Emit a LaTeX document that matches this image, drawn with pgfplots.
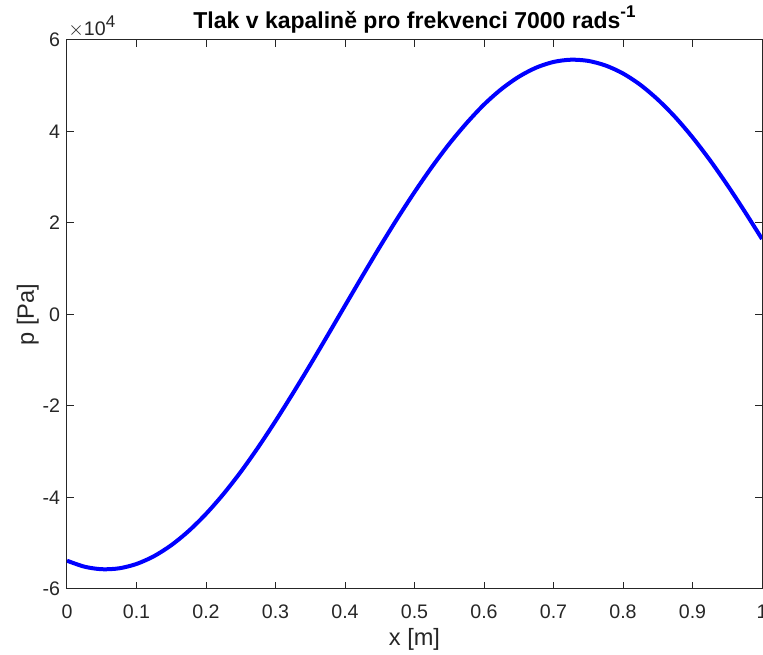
\documentclass[border=0pt]{standalone}
\usepackage{pgfplots}
\pgfplotsset{compat=1.18}
\usepackage{fontspec}
\setmainfont{Liberation Sans}
\definecolor{axgray}{RGB}{38,38,38}
\begin{document}
\begin{tikzpicture}
\begin{axis}[
  width=347.5pt, height=274.5pt, scale only axis,
  xmin=0, xmax=1, ymin=-6, ymax=6,
  xtick={0,0.1,...,1},
  xticklabels={0,0.1,0.2,0.3,0.4,0.5,0.6,0.7,0.8,0.9,1},
  ytick={-6,-4,-2,0,2,4,6},
  yticklabels={-6,-4,-2,0,2,4,6},
  tick align=inside, major tick length=3.5pt,
  axis line style={axgray, line width=0.5pt},
  every tick/.style={axgray, line width=0.5pt},
  tick label style={font=\fontsize{9.8}{11}\selectfont, text=axgray},
  xticklabel style={yshift=-4.5pt},
  /pgf/number format/assume math mode=true,
  xlabel={x [m]}, ylabel={p [Pa]},
  label style={font=\fontsize{11.8}{13}\selectfont, text=axgray},
  xlabel style={yshift=2pt},
  ylabel style={yshift=-5pt},
  title={\textbf{Tlak v kapalině pro frekvenci 7000 rads\raisebox{0.85ex}{\fontsize{8.5}{9}\selectfont -1}}},
  title style={font=\fontsize{11.5}{13}\selectfont, yshift=-6pt},
  clip=true,
]
\addplot[color={rgb,255:red,0;green,0;blue,255}, line width=2pt, smooth] coordinates {
(0.000,-5.381) (0.025,-5.512) (0.050,-5.568) (0.075,-5.548) (0.100,-5.453)
(0.125,-5.284) (0.150,-5.043) (0.175,-4.733) (0.200,-4.359) (0.225,-3.926)
(0.250,-3.440) (0.275,-2.904) (0.300,-2.329) (0.325,-1.724) (0.350,-1.099)
(0.375,-0.456) (0.400,0.193) (0.425,0.840) (0.450,1.476) (0.475,2.090)
(0.500,2.675) (0.525,3.224) (0.550,3.730) (0.575,4.184) (0.600,4.589)
(0.625,4.926) (0.650,5.196) (0.675,5.395) (0.700,5.520) (0.725,5.569)
(0.750,5.543) (0.775,5.442) (0.800,5.268) (0.825,5.019) (0.850,4.699)
(0.875,4.316) (0.900,3.872) (0.925,3.375) (0.950,2.832) (0.975,2.253)
(1.000,1.651)
};
\end{axis}
\node[anchor=south west, text=axgray, font=\fontsize{9.8}{11}\selectfont, inner sep=0pt]
  at ([xshift=0.5pt,yshift=1pt]current axis.north west) {$\times$10\raisebox{0.8ex}{\fontsize{8.5}{9}\selectfont 4}};
\pgfresetboundingbox
\path ([shift={(-33.5pt,-33pt)}]current axis.south west) rectangle ([shift={(0.5pt,20pt)}]current axis.north east);
\end{tikzpicture}
\end{document}
